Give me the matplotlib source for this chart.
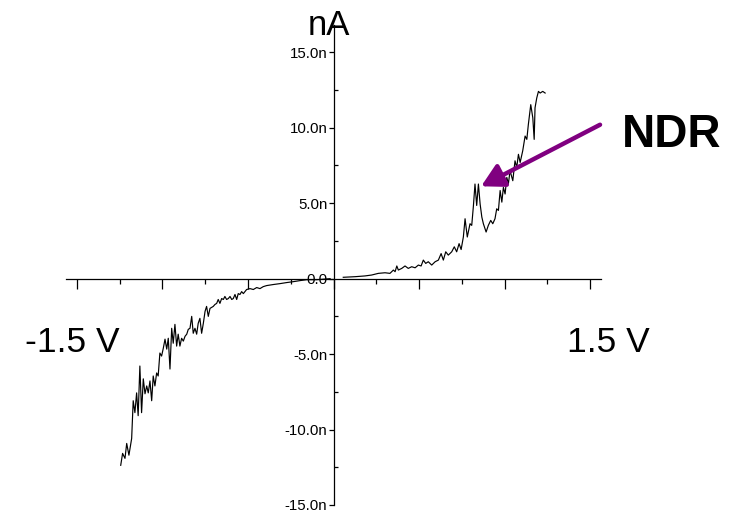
import matplotlib
matplotlib.use("Agg")
import matplotlib.pyplot as plt
import numpy as np

plt.rcParams['font.family'] = ['Liberation Sans', 'DejaVu Sans']

# I-V sweep (V in volts, I in nA)
v_neg = [-1.244, -1.233, -1.219, -1.209, -1.196, -1.180, -1.171, -1.161, -1.151, -1.142,
         -1.132, -1.122, -1.112, -1.102, -1.092, -1.083, -1.073, -1.063, -1.054, -1.044,
         -1.034, -1.025, -1.015, -1.005, -0.995, -0.985, -0.975, -0.966, -0.956, -0.946,
         -0.937, -0.927, -0.917, -0.908, -0.898, -0.888, -0.878, -0.868, -0.858, -0.849,
         -0.839, -0.829, -0.820, -0.810, -0.800, -0.791, -0.781, -0.771, -0.761, -0.751,
         -0.742, -0.732, -0.722, -0.703, -0.693, -0.683, -0.674, -0.664, -0.654, -0.644,
         -0.635, -0.625, -0.615, -0.605, -0.595, -0.586, -0.576, -0.566, -0.557, -0.547,
         -0.537, -0.527, -0.508, -0.488, -0.469, -0.449, -0.430, -0.411, -0.391, -0.352,
         -0.313, -0.274, -0.235, -0.196, -0.157, -0.098, -0.020]
i_neg = [-12.37, -11.58, -11.91, -10.92, -11.70, -10.59, -8.09, -8.88, -7.57, -9.08,
         -5.79, -8.88, -6.64, -7.63, -7.11, -7.57, -6.78, -8.09, -6.45, -7.11,
         -6.25, -6.45, -4.93, -5.13, -4.61, -4.01, -4.67, -3.95, -5.99, -3.29,
         -4.28, -3.03, -4.47, -3.68, -4.47, -3.95, -4.14, -3.82, -3.68, -3.36,
         -3.29, -2.50, -3.62, -3.29, -3.68, -2.96, -2.63, -3.62, -2.96, -2.17,
         -1.84, -2.50, -1.97, -1.84, -1.71, -1.64, -1.38, -1.64, -1.32, -1.38,
         -1.18, -1.38, -1.32, -1.18, -1.38, -1.32, -1.05, -1.38, -0.99, -1.05,
         -0.86, -0.99, -0.72, -0.66, -0.72, -0.59, -0.66, -0.53, -0.46, -0.39,
         -0.33, -0.26, -0.20, -0.13, -0.07, -0.07, 0.00]

v_pos = [0.057, 0.126, 0.184, 0.223, 0.262, 0.301, 0.330, 0.350, 0.360, 0.370,
         0.379, 0.399, 0.418, 0.437, 0.457, 0.477, 0.496, 0.512, 0.525, 0.539,
         0.554, 0.574, 0.594, 0.613, 0.629, 0.642, 0.656, 0.671, 0.691, 0.706,
         0.720, 0.734, 0.746, 0.759, 0.769, 0.782, 0.798, 0.808, 0.818, 0.827,
         0.837, 0.847, 0.857, 0.867, 0.876, 0.892, 0.905, 0.919, 0.931, 0.944,
         0.954, 0.964, 0.974, 0.984, 0.993, 1.003, 1.013, 1.022, 1.032, 1.048,
         1.061, 1.071, 1.081, 1.091, 1.106, 1.120, 1.130, 1.139, 1.153, 1.165,
         1.173, 1.178, 1.188, 1.198, 1.208, 1.223, 1.237]
i_pos = [0.09, 0.13, 0.18, 0.24, 0.35, 0.39, 0.35, 0.57, 0.46, 0.84,
         0.57, 0.68, 0.84, 0.68, 0.79, 0.72, 0.90, 0.84, 1.23, 1.01,
         1.12, 0.90, 1.12, 1.23, 1.66, 1.23, 1.78, 1.56, 1.78, 2.11,
         1.78, 2.32, 1.93, 2.76, 3.97, 2.76, 3.64, 3.53, 4.85, 6.27,
         4.85, 6.27, 4.95, 4.08, 3.64, 3.09, 3.53, 3.86, 3.64, 3.97,
         4.63, 4.52, 5.84, 5.07, 6.05, 5.61, 6.71, 6.27, 7.15, 6.49,
         7.81, 7.37, 8.24, 7.70, 8.47, 9.45, 9.23, 10.22, 11.53, 10.66,
         9.23, 11.32, 11.97, 12.41, 12.30, 12.41, 12.30]

y_ticks = [-15, -10, -5, 0, 5, 10, 15]
y_labels = ["-15.0n", "-10.0n", "-5.0n", "0.0", "5.0n", "10.0n", "15.0n"]

# NDR arrow: tail and head in data units
ndr_tail = (1.558, 10.2)
ndr_head = (0.863, 6.12)

fig = plt.figure(figsize=(7.33, 5.13), dpi=100)
ax = fig.add_axes([0.090, 0.0156, 0.730, 0.9354])

ax.plot(v_neg, i_neg, color="black", lw=0.85)
ax.plot(v_pos, i_pos, color="black", lw=0.85)

ax.set_xlim(-1.564, 1.564)
ax.set_ylim(-15, 16.8)

for side in ["top", "right"]:
    ax.spines[side].set_visible(False)
ax.spines["left"].set_position(("data", 0))
ax.spines["bottom"].set_position(("data", 0))
ax.spines["left"].set_bounds(-15, 16.8)
for side in ["left", "bottom"]:
    ax.spines[side].set_linewidth(0.9)

ax.set_xticks(np.arange(-1.5, 1.51, 0.5))
ax.set_xticks(np.arange(-1.25, 1.3, 0.5), minor=True)
ax.set_xticklabels([])
ax.tick_params(axis="x", which="major", direction="out", length=7.5, width=0.9)
ax.tick_params(axis="x", which="minor", direction="out", length=3.5, width=0.9)

ax.set_yticks(y_ticks)
ax.set_yticklabels(y_labels)
ax.set_yticks(np.arange(-12.5, 13, 5), minor=True)
ax.tick_params(axis="y", which="major", direction="out", length=3.5, width=0.9,
               labelsize=10.8, pad=1)
ax.tick_params(axis="y", which="minor", direction="in", length=3, width=0.9)

ax.annotate("", xy=ndr_head, xytext=ndr_tail, annotation_clip=False,
            arrowprops=dict(arrowstyle="-|>,head_width=0.34,head_length=0.62",
                            color="#800080", lw=3.2, mutation_scale=22,
                            shrinkA=0, shrinkB=0))

fig.text(0.420, 0.932, "nA", fontsize=25, va="baseline")
fig.text(0.034, 0.314, "-1.5 V", fontsize=25.5, va="baseline")
fig.text(0.830, 0.314, "1.5 V", fontsize=25.5, va="baseline", ha="center")
fig.text(0.849, 0.713, "NDR", fontsize=33, fontweight="bold", va="baseline")

fig.savefig("out.png", dpi=100)
